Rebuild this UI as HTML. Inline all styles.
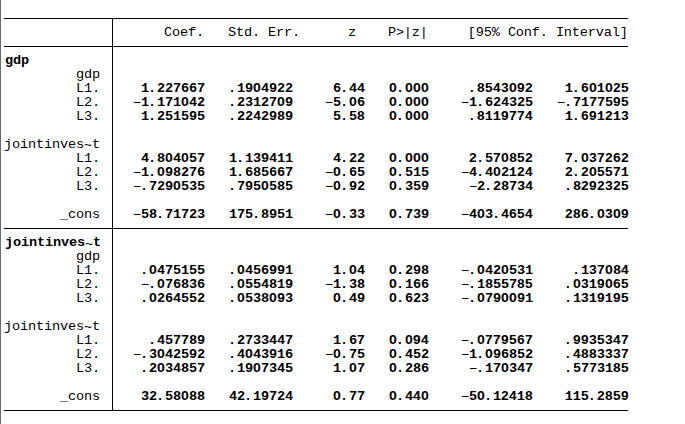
<!DOCTYPE html>
<html><head><meta charset="utf-8"><title>Stata output</title>
<style>
html,body{margin:0;padding:0;background:#fff;}
body{width:685px;height:424px;position:relative;overflow:hidden;font-family:"Liberation Mono",monospace;}
.edge{position:absolute;left:0;top:0;width:1px;height:424px;background:#6b6b6b;}
.edge2{position:absolute;left:1px;top:0;width:1px;height:424px;background:#e4e4e4;}
.hl{position:absolute;left:4px;width:624px;height:1px;background:#000;}
.vl{position:absolute;left:112px;top:18px;width:1px;height:393px;background:#000;}
.t{position:absolute;left:4px;height:14px;line-height:14px;font-size:13.6px;letter-spacing:-0.1614px;white-space:pre;color:#000;font-weight:400;margin-top:1px;}
.m{font-weight:400;position:relative;top:1px;left:0px;}
.p{position:relative;left:-1px;}
.c{display:inline-block;width:8px;text-align:center;font-size:12.1px;letter-spacing:0;line-height:8px;transform:scaleX(1.12);}
.z{display:inline-block;width:8px;text-align:center;font-family:"Liberation Sans",sans-serif;font-size:13px;letter-spacing:0;line-height:8px;transform:scaleX(1.08);}
.tl{position:relative;top:1px;}
.b .tl{font-weight:400;top:2px;}
.t b,.t.b{font-weight:700;}
.t b{position:relative;left:1px;}
.t.b{left:5px;}
</style></head><body>
<div class="edge"></div>
<div class="vl"></div>
<div class="hl" style="top:18px"></div>
<div class="t" style="top:25px">                    <span class="c">C</span>oef.   <span class="c">S</span>td. <span class="c">E</span>rr.      z    <span class="c">P</span>&gt;|z|     [95% <span class="c">C</span>onf. <span class="c">I</span>nterval]</div>
<div class="hl" style="top:46px"></div>
<div class="t b" style="top:53px">gdp</div>
<div class="t" style="top:67px">         gdp</div>
<div class="t" style="top:81px">         <span class="c">L</span>1. <b>    1<span class="p">.</span>227667   <span class="p">.</span>19<span class="z">0</span>4922     6<span class="p">.</span>44   <span class="z">0</span><span class="p">.</span><span class="z">0</span><span class="z">0</span><span class="z">0</span>     <span class="p">.</span>8543<span class="z">0</span>92    1<span class="p">.</span>6<span class="z">0</span>1<span class="z">0</span>25</b></div>
<div class="t" style="top:95px">         <span class="c">L</span>2. <b>   <span class="m">−</span>1<span class="p">.</span>171<span class="z">0</span>42   <span class="p">.</span>23127<span class="z">0</span>9    <span class="m">−</span>5<span class="p">.</span><span class="z">0</span>6   <span class="z">0</span><span class="p">.</span><span class="z">0</span><span class="z">0</span><span class="z">0</span>    <span class="m">−</span>1<span class="p">.</span>624325   <span class="m">−</span><span class="p">.</span>7177595</b></div>
<div class="t" style="top:109px">         <span class="c">L</span>3. <b>    1<span class="p">.</span>251595   <span class="p">.</span>2242989     5<span class="p">.</span>58   <span class="z">0</span><span class="p">.</span><span class="z">0</span><span class="z">0</span><span class="z">0</span>     <span class="p">.</span>8119774    1<span class="p">.</span>691213</b></div>
<div class="t" style="top:137px">jointinves<span class="tl">~</span>t</div>
<div class="t" style="top:151px">         <span class="c">L</span>1. <b>    4<span class="p">.</span>8<span class="z">0</span>4<span class="z">0</span>57   1<span class="p">.</span>139411     4<span class="p">.</span>22   <span class="z">0</span><span class="p">.</span><span class="z">0</span><span class="z">0</span><span class="z">0</span>     2<span class="p">.</span>57<span class="z">0</span>852    7<span class="p">.</span><span class="z">0</span>37262</b></div>
<div class="t" style="top:165px">         <span class="c">L</span>2. <b>   <span class="m">−</span>1<span class="p">.</span><span class="z">0</span>98276   1<span class="p">.</span>685667    <span class="m">−</span><span class="z">0</span><span class="p">.</span>65   <span class="z">0</span><span class="p">.</span>515    <span class="m">−</span>4<span class="p">.</span>4<span class="z">0</span>2124    2<span class="p">.</span>2<span class="z">0</span>5571</b></div>
<div class="t" style="top:179px">         <span class="c">L</span>3. <b>   <span class="m">−</span><span class="p">.</span>729<span class="z">0</span>535   <span class="p">.</span>795<span class="z">0</span>585    <span class="m">−</span><span class="z">0</span><span class="p">.</span>92   <span class="z">0</span><span class="p">.</span>359     <span class="m">−</span>2<span class="p">.</span>28734    <span class="p">.</span>8292325</b></div>
<div class="t" style="top:207px">       _cons <b>   <span class="m">−</span>58<span class="p">.</span>71723   175<span class="p">.</span>8951    <span class="m">−</span><span class="z">0</span><span class="p">.</span>33   <span class="z">0</span><span class="p">.</span>739    <span class="m">−</span>4<span class="z">0</span>3<span class="p">.</span>4654    286<span class="p">.</span><span class="z">0</span>3<span class="z">0</span>9</b></div>
<div class="hl" style="top:228px"></div>
<div class="t b" style="top:235px">jointinves<span class="tl">~</span>t</div>
<div class="t" style="top:249px">         gdp</div>
<div class="t" style="top:263px">         <span class="c">L</span>1. <b>    <span class="p">.</span><span class="z">0</span>475155   <span class="p">.</span><span class="z">0</span>456991     1<span class="p">.</span><span class="z">0</span>4   <span class="z">0</span><span class="p">.</span>298    <span class="m">−</span><span class="p">.</span><span class="z">0</span>42<span class="z">0</span>531     <span class="p">.</span>137<span class="z">0</span>84</b></div>
<div class="t" style="top:277px">         <span class="c">L</span>2. <b>    <span class="m">−</span><span class="p">.</span><span class="z">0</span>76836   <span class="p">.</span><span class="z">0</span>554819    <span class="m">−</span>1<span class="p">.</span>38   <span class="z">0</span><span class="p">.</span>166    <span class="m">−</span><span class="p">.</span>1855785    <span class="p">.</span><span class="z">0</span>319<span class="z">0</span>65</b></div>
<div class="t" style="top:291px">         <span class="c">L</span>3. <b>    <span class="p">.</span><span class="z">0</span>264552   <span class="p">.</span><span class="z">0</span>538<span class="z">0</span>93     <span class="z">0</span><span class="p">.</span>49   <span class="z">0</span><span class="p">.</span>623    <span class="m">−</span><span class="p">.</span><span class="z">0</span>79<span class="z">0</span><span class="z">0</span>91    <span class="p">.</span>1319195</b></div>
<div class="t" style="top:319px">jointinves<span class="tl">~</span>t</div>
<div class="t" style="top:333px">         <span class="c">L</span>1. <b>     <span class="p">.</span>457789   <span class="p">.</span>2733447     1<span class="p">.</span>67   <span class="z">0</span><span class="p">.</span><span class="z">0</span>94    <span class="m">−</span><span class="p">.</span><span class="z">0</span>779567    <span class="p">.</span>9935347</b></div>
<div class="t" style="top:347px">         <span class="c">L</span>2. <b>   <span class="m">−</span><span class="p">.</span>3<span class="z">0</span>42592   <span class="p">.</span>4<span class="z">0</span>43916    <span class="m">−</span><span class="z">0</span><span class="p">.</span>75   <span class="z">0</span><span class="p">.</span>452    <span class="m">−</span>1<span class="p">.</span><span class="z">0</span>96852    <span class="p">.</span>4883337</b></div>
<div class="t" style="top:361px">         <span class="c">L</span>3. <b>    <span class="p">.</span>2<span class="z">0</span>34857   <span class="p">.</span>19<span class="z">0</span>7345     1<span class="p">.</span><span class="z">0</span>7   <span class="z">0</span><span class="p">.</span>286     <span class="m">−</span><span class="p">.</span>17<span class="z">0</span>347    <span class="p">.</span>5773185</b></div>
<div class="t" style="top:389px">       _cons <b>    32<span class="p">.</span>58<span class="z">0</span>88   42<span class="p">.</span>19724     <span class="z">0</span><span class="p">.</span>77   <span class="z">0</span><span class="p">.</span>44<span class="z">0</span>    <span class="m">−</span>5<span class="z">0</span><span class="p">.</span>12418    115<span class="p">.</span>2859</b></div>
<div class="hl" style="top:410px"></div>
</body></html>
